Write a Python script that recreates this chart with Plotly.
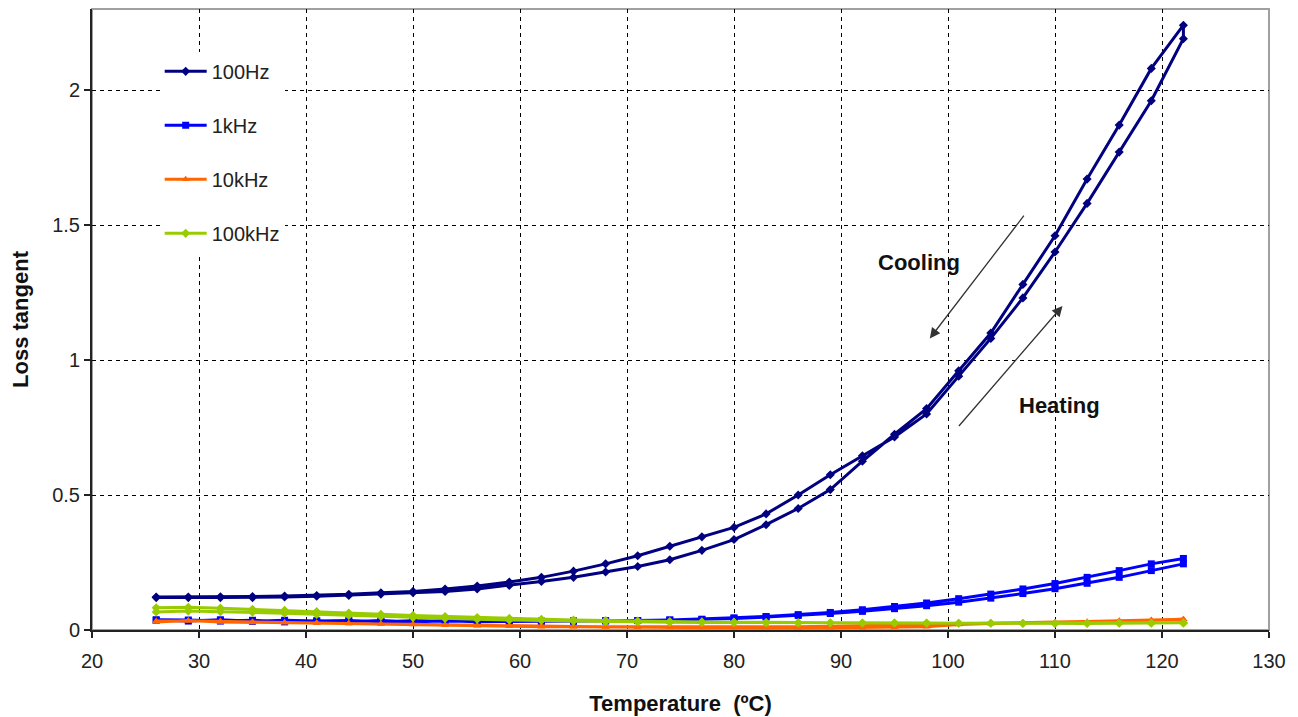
import plotly.graph_objects as go

# Temperature grids (°C)
temp_heat = [26, 29, 32, 35, 38, 41, 44, 47, 50, 53, 56, 59, 62, 65, 68, 71, 74,
             77, 80, 83, 86, 89, 92, 95, 98, 101, 104, 107, 110, 113, 116, 119, 122]
temp_cool = [122, 119, 116, 113, 110, 107, 104, 101, 98, 95, 92, 89, 86, 83, 80, 77,
             74, 71, 68, 65, 62, 59, 56, 53, 50, 47, 44, 41, 38, 35, 32, 29, 26]

# 100 Hz
hz100_heat = [0.122, 0.122, 0.123, 0.124, 0.126, 0.128, 0.132, 0.138, 0.143, 0.152, 0.163,
              0.178, 0.195, 0.218, 0.245, 0.275, 0.31, 0.345, 0.38, 0.43, 0.50, 0.575,
              0.645, 0.715, 0.80, 0.94, 1.08, 1.23, 1.40, 1.58, 1.77, 1.96, 2.19]
hz100_cool = [2.24, 2.08, 1.87, 1.67, 1.46, 1.28, 1.10, 0.96, 0.82, 0.725, 0.625, 0.52, 0.45,
              0.39, 0.335, 0.295, 0.26, 0.235, 0.215, 0.195, 0.18, 0.165, 0.152, 0.143,
              0.138, 0.133, 0.128, 0.125, 0.122, 0.12, 0.12, 0.12, 0.12]

# 1 kHz
khz1_heat = [0.036, 0.033, 0.038, 0.032, 0.036, 0.033, 0.035, 0.031, 0.034, 0.032, 0.034,
             0.032, 0.033, 0.033, 0.034, 0.035, 0.037, 0.039, 0.043, 0.048, 0.054, 0.061,
             0.069, 0.079, 0.09, 0.103, 0.118, 0.135, 0.153, 0.173, 0.195, 0.22, 0.245]
khz1_cool = [0.265, 0.245, 0.22, 0.195, 0.172, 0.152, 0.133, 0.116, 0.10, 0.087, 0.075,
             0.065, 0.057, 0.05, 0.045, 0.04, 0.037, 0.035, 0.034, 0.033, 0.032, 0.033,
             0.031, 0.034, 0.03, 0.035, 0.031, 0.034, 0.03, 0.036, 0.033, 0.037, 0.038]

# 10 kHz
khz10_heat = [0.03, 0.035, 0.03, 0.028, 0.027, 0.026, 0.024, 0.022, 0.021, 0.019, 0.017,
              0.015, 0.014, 0.013, 0.012, 0.012, 0.011, 0.011, 0.011, 0.01, 0.012, 0.014,
              0.016, 0.018, 0.02, 0.022, 0.024, 0.026, 0.028, 0.03, 0.033, 0.036, 0.04]
khz10_cool = [0.04, 0.037, 0.034, 0.03, 0.028, 0.026, 0.024, 0.02, 0.012, 0.01, 0.008,
              0.008, 0.007, 0.008, 0.008, 0.009, 0.01, 0.01, 0.011, 0.012, 0.012, 0.014,
              0.016, 0.018, 0.02, 0.022, 0.025, 0.027, 0.029, 0.031, 0.033, 0.034, 0.033]

# 100 kHz
khz100_heat = [0.067, 0.07, 0.068, 0.066, 0.062, 0.058, 0.054, 0.05, 0.046, 0.043, 0.04,
               0.037, 0.035, 0.033, 0.031, 0.03, 0.029, 0.028, 0.028, 0.027, 0.027, 0.026,
               0.026, 0.026, 0.026, 0.025, 0.025, 0.025, 0.025, 0.026, 0.026, 0.026, 0.027]
khz100_cool = [0.025, 0.025, 0.025, 0.024, 0.024, 0.024, 0.025, 0.025, 0.025, 0.026, 0.026,
               0.027, 0.027, 0.028, 0.029, 0.03, 0.031, 0.033, 0.035, 0.037, 0.04, 0.043,
               0.046, 0.05, 0.054, 0.058, 0.063, 0.068, 0.073, 0.077, 0.081, 0.084, 0.082]

series_names = ["100Hz", "1kHz", "10kHz", "100kHz"]
series_colors = ["#000080", "#0000FF", "#FF6600", "#99CC00"]
series_symbols = ["diamond", "square", "triangle-up", "diamond"]
series_heat = [hz100_heat, khz1_heat, khz10_heat, khz100_heat]
series_cool = [hz100_cool, khz1_cool, khz10_cool, khz100_cool]

x_ticks = [20, 30, 40, 50, 60, 70, 80, 90, 100, 110, 120, 130]
y_ticks = [0, 0.5, 1, 1.5, 2]

fig = go.Figure()
for i, name in enumerate(series_names):
    fig.add_trace(go.Scatter(
        x=temp_heat + temp_cool,
        y=series_heat[i] + series_cool[i],
        mode="lines+markers",
        name=name,
        legendgroup=name,
        line=dict(color=series_colors[i], width=3),
        marker=dict(color=series_colors[i], symbol=series_symbols[i], size=7),
    ))

font_main = "Liberation Sans, Arial, sans-serif"

# plot border (light gray top/right)
fig.add_shape(type="rect", xref="paper", yref="paper", x0=0, y0=0, x1=1, y1=1,
              line=dict(color="#A0A0A0", width=2), layer="below")

fig.add_annotation(x=97.3, y=1.36, text="<b>Cooling</b>", showarrow=False,
                   font=dict(family=font_main, size=22, color="#111"))
fig.add_annotation(x=110.4, y=0.83, text="<b>Heating</b>", showarrow=False,
                   font=dict(family=font_main, size=22, color="#111"))
fig.add_annotation(x=98.3, y=1.08, ax=107.2, ay=1.54, xref="x", yref="y",
                   axref="x", ayref="y", text="", showarrow=True, arrowhead=2,
                   arrowsize=1.6, arrowwidth=1.3, arrowcolor="#333")
fig.add_annotation(x=110.7, y=1.20, ax=100.9, ay=0.75, xref="x", yref="y",
                   axref="x", ayref="y", text="", showarrow=True, arrowhead=2,
                   arrowsize=1.6, arrowwidth=1.3, arrowcolor="#333")

fig.update_layout(
    width=1290, height=709,
    margin=dict(l=84, r=29, t=1, b=87),
    paper_bgcolor="white", plot_bgcolor="white",
    font=dict(family=font_main, size=20, color="#222"),
    showlegend=True,
    legend=dict(x=0.0575, y=0.931, xanchor="left", yanchor="top",
                bgcolor="white", borderwidth=0, tracegroupgap=25,
                itemwidth=42,
                font=dict(family=font_main, size=20, color="#222")),
    xaxis=dict(range=[20, 130], tickvals=x_ticks, showgrid=True,
               gridcolor="black", griddash="4px,4px", gridwidth=1,
               showline=True, linecolor="#222", linewidth=2,
               ticks="outside", ticklen=6, tickcolor="#222", tickwidth=2,
               ticklabelstandoff=6,
               tickfont=dict(size=20, color="#222"), zeroline=False,
               title=dict(text="<b>Temperature  (ºC)</b>", standoff=25,
                          font=dict(size=22, color="#111"))),
    yaxis=dict(range=[0, 2.3], tickvals=y_ticks, showgrid=True,
               gridcolor="black", griddash="4px,4px", gridwidth=1,
               showline=True, linecolor="#222", linewidth=2,
               ticks="outside", ticklen=6, tickcolor="#222", tickwidth=2,
               tickfont=dict(size=20, color="#222"), zeroline=False,
               title=dict(text="<b>Loss tangent</b>", standoff=18,
                          font=dict(size=22, color="#111"))),
)

fig.write_html("out.html")
